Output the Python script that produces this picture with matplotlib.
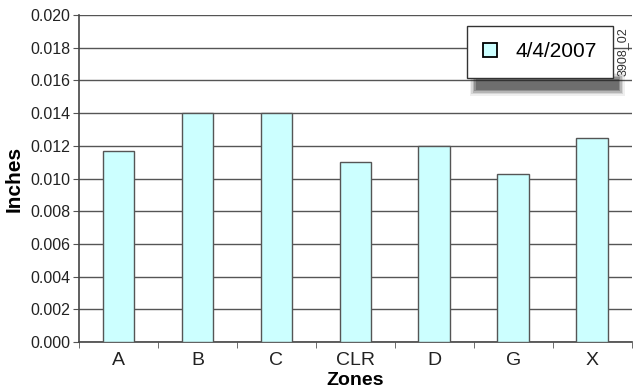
import matplotlib.pyplot as plt
from matplotlib.lines import Line2D
from matplotlib.patches import Rectangle
import numpy as np

plt.rcParams['font.family'] = ['Liberation Sans', 'DejaVu Sans']

# Zone measurements
zones = ['A', 'B', 'C', 'CLR', 'D', 'G', 'X']
inches = [0.0117, 0.0140, 0.0140, 0.0110, 0.0120, 0.0103, 0.0125]
series_label = '4/4/2007'
y_ticks = [0.000, 0.002, 0.004, 0.006, 0.008, 0.010, 0.012, 0.014, 0.016, 0.018, 0.020]

bar_color = '#ccffff'
edge_color = '#555555'

fig = plt.figure(figsize=(6.33, 3.91), dpi=100)
ax = fig.add_axes([0.1248, 0.1253, 0.873, 0.8363])

x = np.arange(len(zones))
ax.bar(x, inches, width=0.4, color=bar_color, edgecolor=edge_color, linewidth=1.0, zorder=3)

ax.set_xlim(-0.5, len(zones) - 0.5)
ax.set_ylim(0, 0.020)
ax.set_yticks(y_ticks)
ax.set_yticklabels([f'{v:.3f}' for v in y_ticks], fontsize=11.5, color='#222222')
ax.yaxis.grid(True, color='#555555', linewidth=1.0, zorder=0)
ax.set_axisbelow(True)

# category labels centred, tick marks on the boundaries
ax.set_xticks(x)
ax.set_xticklabels(zones, fontsize=14, color='#222222')
ax.tick_params(axis='x', length=0, pad=7)
ax.set_xticks(np.arange(len(zones) + 1) - 0.5, minor=True)
ax.tick_params(axis='x', which='minor', length=4, direction='out', color='#555555')
ax.tick_params(axis='y', length=4, direction='out', color='#555555', pad=2)

for side in ['top', 'right']:
    ax.spines[side].set_visible(False)
for side in ['left', 'bottom']:
    ax.spines[side].set_color('#444444')
    ax.spines[side].set_linewidth(1.2)

ax.set_ylabel('Inches', fontsize=15, fontweight='bold', labelpad=5)
ax.set_xlabel('Zones', fontsize=14, fontweight='bold', labelpad=2)

handle = Line2D([], [], linestyle='none', marker='s', markersize=9.5,
                markerfacecolor=bar_color, markeredgecolor='black', markeredgewidth=1.3)
leg = ax.legend([handle], [series_label], loc='upper right',
                bbox_to_anchor=(0.969, 0.934), bbox_transform=fig.transFigure,
                fontsize=15, frameon=True, fancybox=False, framealpha=1,
                borderpad=0.8, handlelength=0.62, handletextpad=0.9, borderaxespad=0)
leg.get_frame().set_edgecolor('#333333')
leg.get_frame().set_linewidth(1.0)
leg.set_zorder(10)

# soft drop shadow along the bottom of the legend box
fig.canvas.draw()
bb = leg.get_window_extent().transformed(fig.transFigure.inverted())
px, py = 1 / 633, 1 / 391
sx0, sx1 = bb.x0 + 6 * px, bb.x1 + 8 * px
sy0, sy1 = bb.y0 - 14 * py, bb.y0 + 2 * py
for grow, a in [(3.5, 0.07), (2, 0.12), (0.5, 0.18), (-1, 0.25), (-2.5, 0.3)]:
    ax.add_patch(Rectangle((sx0 - grow * px, sy0 - grow * py),
                           sx1 - sx0 + 2 * grow * px, sy1 - sy0 + 2 * grow * py,
                           transform=fig.transFigure, facecolor='#222222',
                           edgecolor='none', alpha=a, zorder=9, clip_on=False))

fig.text(0.984, 0.867, '3908_02', rotation=90, fontsize=9, color='#333333',
         ha='center', va='center', zorder=11)

fig.savefig('out.png', dpi=100)
